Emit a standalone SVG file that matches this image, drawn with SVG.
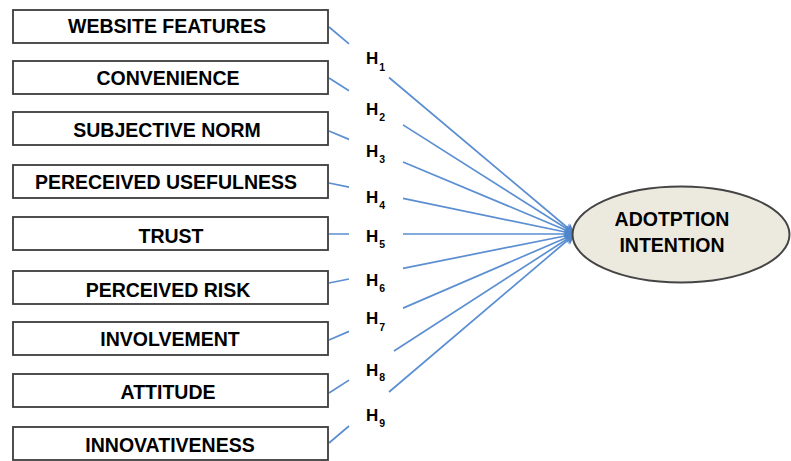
<svg xmlns="http://www.w3.org/2000/svg" width="791" height="461" viewBox="0 0 791 461">
<style>
.box{fill:#ffffff;stroke:#3c3c3c;stroke-width:1.8}
.lbl{font-family:"Liberation Sans",Arial,sans-serif;font-weight:bold;font-size:19.5px;fill:#000;text-anchor:middle}
.h{font-family:"Liberation Sans",Arial,sans-serif;font-weight:bold;font-size:17px;fill:#000}
.sub{font-size:10.5px}
.con{fill:none;stroke:#5b8fd2;stroke-width:1.7}
</style>
<defs>
<marker id="arr" markerUnits="userSpaceOnUse" markerWidth="12" markerHeight="10" refX="11" refY="5" orient="auto">
<path d="M0,0 L11,5 L0,10 L3,5 z" fill="#4f86cc"/>
</marker>
</defs>
<rect width="791" height="461" fill="#ffffff"/>
<g id="connectors">
<path class="con" marker-end="url(#arr)" d="M329,27 L349,43.8 M389,77.5 L575,234"/>
<path class="con" marker-end="url(#arr)" d="M329,78 L349,90.7 M403,124.9 L575,234"/>
<path class="con" marker-end="url(#arr)" d="M329,131 L349,139.4 M403,162 L575,234"/>
<path class="con" marker-end="url(#arr)" d="M329,183 L349,187.1 M403,198.3 L575,234"/>
<path class="con" marker-end="url(#arr)" d="M329,234 L349,234 M403,234 L575,234"/>
<path class="con" marker-end="url(#arr)" d="M329,283 L349,279 M403,268.3 L575,234"/>
<path class="con" marker-end="url(#arr)" d="M329,340 L349,331.4 M403,308.1 L575,234"/>
<path class="con" marker-end="url(#arr)" d="M329,393 L349,380.1 M394,351 L575,234"/>
<path class="con" marker-end="url(#arr)" d="M329,443 L349,426 M389,392 L575,234"/>
</g>
<g id="labels">
<text class="h" x="366" y="64">H<tspan class="sub" dx="1" dy="7">1</tspan></text>
<text class="h" x="366" y="115">H<tspan class="sub" dx="1" dy="6">2</tspan></text>
<text class="h" x="366" y="157">H<tspan class="sub" dx="1" dy="6">3</tspan></text>
<text class="h" x="366" y="203">H<tspan class="sub" dx="1" dy="6">4</tspan></text>
<text class="h" x="366" y="242">H<tspan class="sub" dx="1" dy="6">5</tspan></text>
<text class="h" x="366" y="286">H<tspan class="sub" dx="1" dy="6">6</tspan></text>
<text class="h" x="366" y="324">H<tspan class="sub" dx="1" dy="7">7</tspan></text>
<text class="h" x="366" y="376">H<tspan class="sub" dx="1" dy="5">8</tspan></text>
<text class="h" x="366" y="421">H<tspan class="sub" dx="1" dy="6">9</tspan></text>
</g>
<g id="n-website-features"><rect class="box" x="13" y="10" width="315" height="33"/><text class="lbl" x="167" y="33">WEBSITE FEATURES</text></g>
<g id="n-convenience"><rect class="box" x="13" y="61" width="315" height="33"/><text class="lbl" x="168" y="85">CONVENIENCE</text></g>
<g id="n-subjective-norm"><rect class="box" x="13" y="112" width="315" height="33"/><text class="lbl" x="167" y="137">SUBJECTIVE NORM</text></g>
<g id="n-perceived-usefulness"><rect class="box" x="13" y="165" width="315" height="33"/><text class="lbl" x="166" y="189">PERECEIVED USEFULNESS</text></g>
<g id="n-trust"><rect class="box" x="13" y="217" width="315" height="33"/><text class="lbl" x="171" y="243">TRUST</text></g>
<g id="n-perceived-risk"><rect class="box" x="13" y="271" width="315" height="33"/><text class="lbl" x="168" y="297">PERCEIVED RISK</text></g>
<g id="n-involvement"><rect class="box" x="13" y="322" width="315" height="33"/><text class="lbl" x="170" y="346">INVOLVEMENT</text></g>
<g id="n-attitude"><rect class="box" x="13" y="374" width="315" height="33"/><text class="lbl" x="168" y="399">ATTITUDE</text></g>
<g id="n-innovativeness"><rect class="box" x="13" y="427" width="315" height="33"/><text class="lbl" x="170" y="452">INNOVATIVENESS</text></g>
<g id="n-adoption-intention">
<ellipse cx="681" cy="234.5" rx="108.5" ry="48" fill="#eceadf" stroke="#444444" stroke-width="2"/>
<text class="lbl" x="672" y="226">ADOTPTION</text>
<text class="lbl" x="672" y="252">INTENTION</text>
</g>
</svg>
